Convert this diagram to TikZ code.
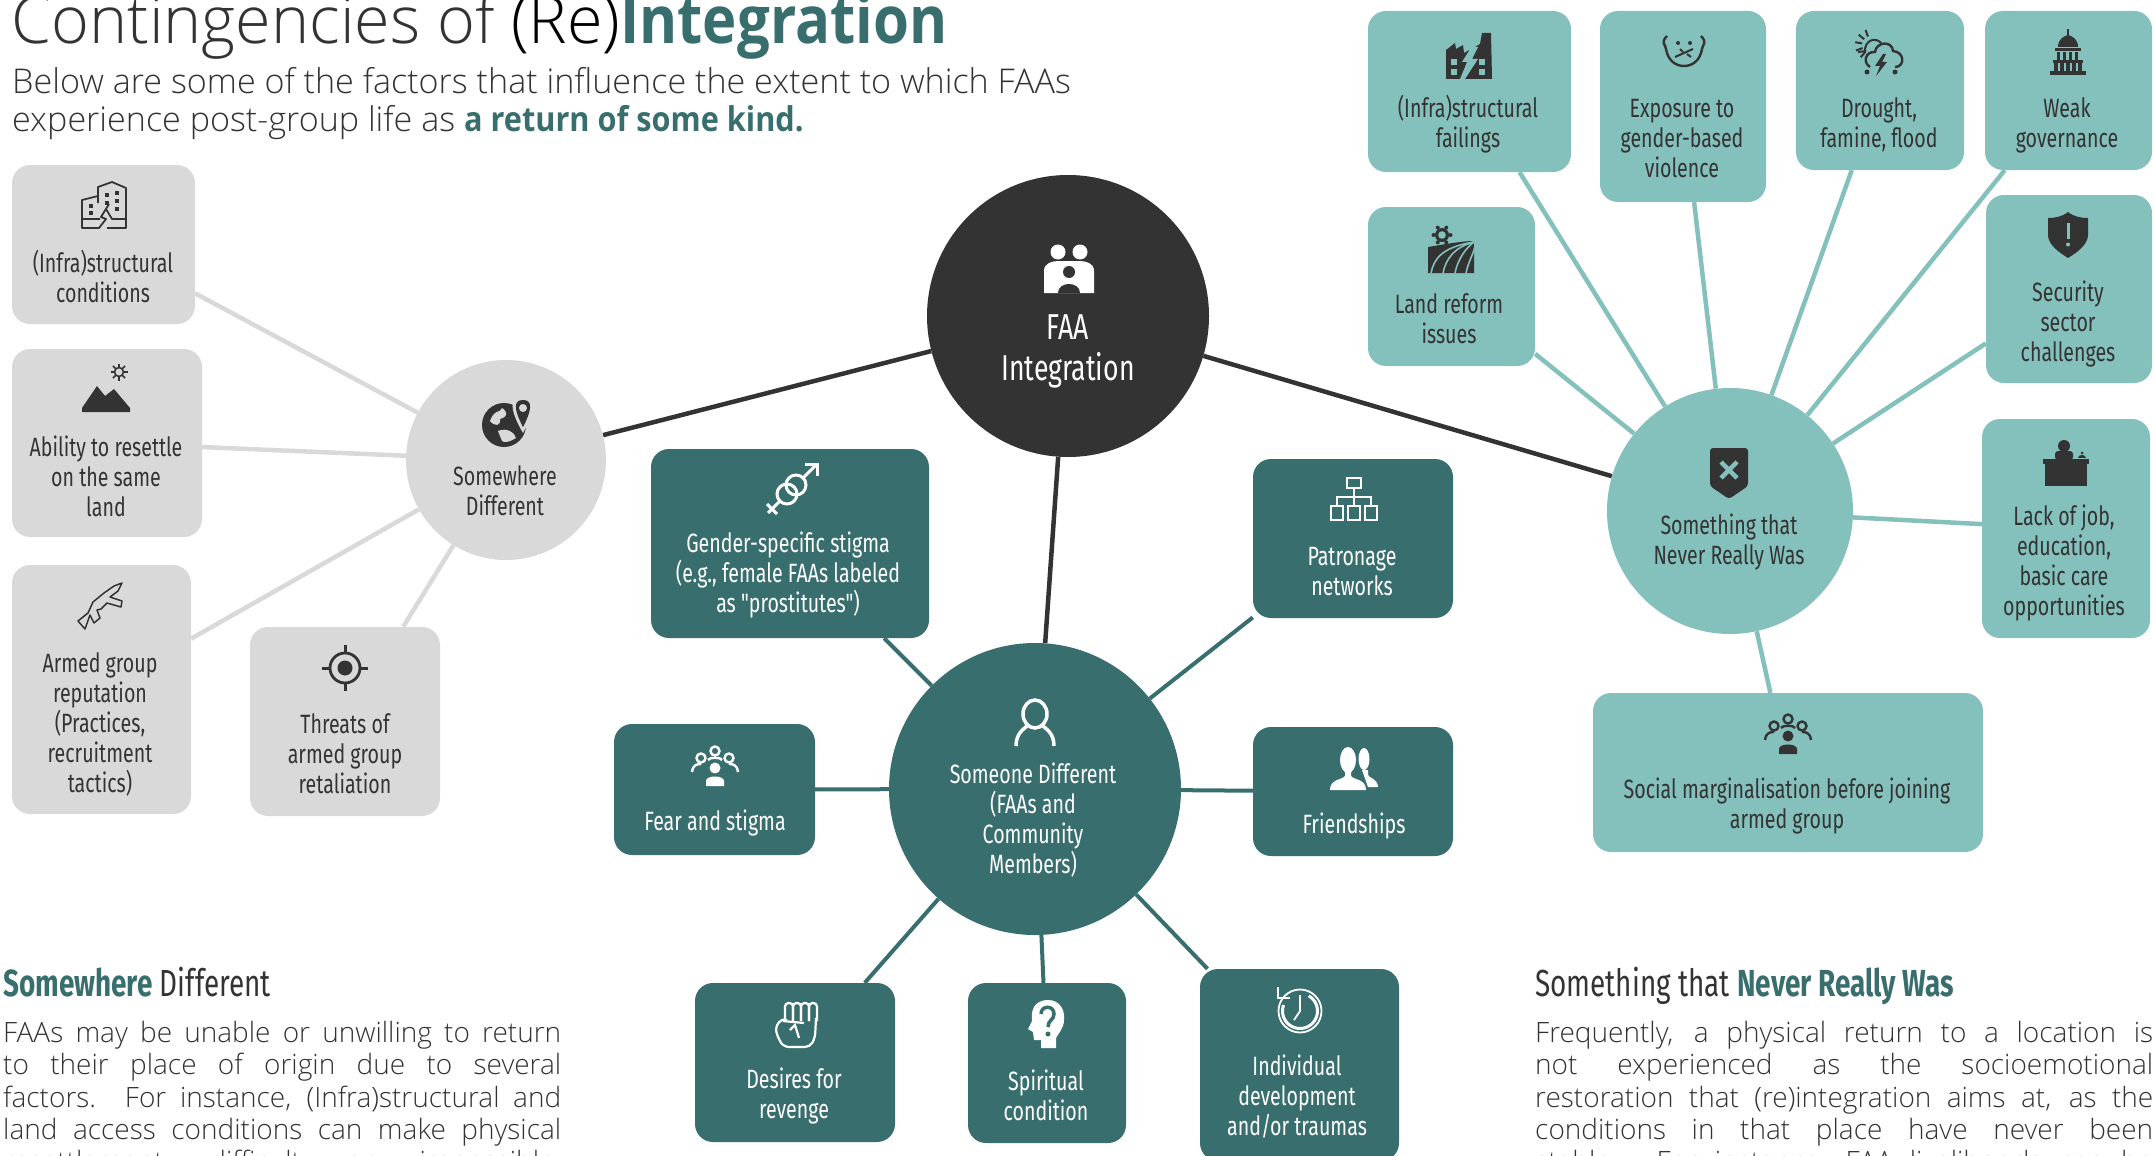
\documentclass[tikz,border=0pt]{standalone}
\usepackage{fontspec}
\usetikzlibrary{backgrounds}
\setmainfont[UprightFont={* Light}, BoldFont={* Bold}]{Open Sans}
\newfontfamily\condfont[FakeStretch=0.74]{Fira Sans}
\newfontfamily\headfont[FakeStretch=0.98, UprightFont={* Light}, BoldFont={* Bold}]{Open Sans}

\definecolor{teald}{HTML}{386F6E}
\definecolor{teall}{HTML}{84C0BC}
\definecolor{grayc}{HTML}{D9D9D9}
\definecolor{darkc}{HTML}{333333}

\tikzset{
	box/.style={rectangle, rounded corners=18pt, inner sep=0pt},
	graybox/.style={box, fill=grayc},
	lightbox/.style={box, fill=teall},
	darkbox/.style={box, fill=teald},
	hub/.style={circle, inner sep=0pt},
	lbl/.style={align=center, inner sep=0pt, text=darkc, font=\condfont\fontsize{26.5}{30}\selectfont},
	wlbl/.style={lbl, text=white},
	grayline/.style={grayc, line width=4.5pt},
	lightline/.style={teall, line width=4.5pt},
	darkline/.style={teald, line width=4pt},
	mainline/.style={darkc, line width=4.5pt},
	heading/.style={anchor=base west, inner sep=0pt, text=darkc, font=\condfont\fontsize{37.7}{40}\selectfont},
	bodytext/.style={anchor=north west, inner sep=0pt, align=justify, text=darkc, font=\fontsize{28}{32.3}\selectfont},
	pics/ibuilding/.style={code={
		\draw[line width=1.8pt, line join=round] (-6,-3)--(-6,-19)--(8,-24)--(22,-18)--(22,13)--(8,13)--(2,3);
		\draw[line width=1.8pt, line join=round] (-6,-10)--(-22,-6)--(-22,13)--(-4,13);
		\draw[line width=1.8pt, line join=round] (-22,13)--(-22,22)--(-5,22)--(2,13)--(-3,11)--(5,-2);
		\draw[line width=1.8pt, line join=round] (3,22)--(22,22)--(22,13);
		\foreach \wx/\wy in {1/-13,1/-5,11/-15,11/-7,11/1,-15/-2,-15/5}
			\fill (\wx,\wy) rectangle ++(4,4);
	}},
	pics/imountain/.style={code={
		\fill (-24,23)--(-24,19)--(-9,-3)--(-1,7)--(8,0)--(24,19)--(24,23)--cycle;
		\draw[line width=1.6pt] (13,-17) circle (4.5);
		\foreach \ang in {0,45,...,315}
			\draw[line width=1.6pt] (13,-17)++(\ang:5)--++(\ang:3.5);
	}},
	pics/irifle/.style={code={
		\draw[line width=1.5pt, line join=round] (-22,15)--(-12,7)--(-7,-4)--(4,-13)--(14,-20)--(22,-23)--(18,-15)--(10,-9)--(22,-5)--(21,1)--(7,-3)--(1,3)--(-3,4)--(0,12)--(-6,17)--(-10,9)--(-15,23)--cycle;
	}},
	pics/itarget/.style={code={
		\draw[line width=2.8pt] (0,0) circle (15);
		\fill (0,0) circle (7.5);
		\foreach \ang in {0,90,180,270}
			\draw[line width=3pt] (\ang:15)--(\ang:23);
	}},
	pics/iglobe/.style={code={
		\fill (-3,2) circle (22);
		\fill[grayc] (-17,-2) .. controls (-13,-14) and (-6,-10) .. (-5,-15) .. controls (2,-10) and (0,-6) .. (-7,-4) .. controls (-6,3) and (-12,4) .. cycle;
		\fill[grayc] (-9,8) .. controls (0,4) and (8,10) .. (9,15) .. controls (3,19) and (-3,20) .. (-5,18) -- cycle;
		\fill[grayc] (16,-27) .. controls (2,-27) and (2,-14) .. (16,10) .. controls (29,-14) and (29,-27) .. (16,-27) -- cycle;
		\fill (16,-23) .. controls (6,-23) and (7,-13) .. (16,4) .. controls (25,-13) and (26,-23) .. (16,-23) -- cycle;
		\fill[grayc] (16,-15) circle (4);
	}},
	pics/ifamily/.style={code={
		\fill (-11,-17) circle (7.5);
		\fill (11,-17) circle (7.5);
		\fill (-25,24)--(-25,2) .. controls (-25,-6) and (-17,-8) .. (-10,-8) -- (10,-8) .. controls (17,-8) and (25,-6) .. (25,2) -- (25,24)--cycle;
		\fill[darkc] (0,3) circle (6);
		\fill[darkc] (-11,24) .. controls (-11,12) and (11,12) .. (11,24)--cycle;
	}},
	pics/igender/.style={code={
		\draw[line width=3pt] (-5,5) circle (10);
		\draw[line width=3pt] (4,-4) circle (10);
		\draw[line width=3pt] (11,-11)--(24,-24);
		\draw[line width=3pt] (13,-25)--(25,-25)--(25,-13);
		\draw[line width=3pt] (-12,12)--(-24,24);
		\draw[line width=3pt] (-25,15)--(-15,25);
	}},
	pics/iorg/.style={code={
		\draw[line width=1.7pt] (-7,-22) rectangle (7,-12);
		\draw[line width=1.7pt] (0,-12)--(0,6);
		\draw[line width=1.7pt] (-17,6)--(-17,-3)--(17,-3)--(17,6);
		\draw[line width=1.7pt] (-23,6) rectangle (-11,20);
		\draw[line width=1.7pt] (-6,6) rectangle (6,20);
		\draw[line width=1.7pt] (11,6) rectangle (23,20);
	}},
	pics/igroup/.style={code={
		\draw[line width=2.4pt] (-14,-8) circle (4.5);
		\draw[line width=2.4pt] (0,-15) circle (4.5);
		\draw[line width=2.4pt] (14,-8) circle (4.5);
		\draw[line width=2.4pt] (-23,6) .. controls (-22,-2) and (-17,-2) .. (-14,-2);
		\draw[line width=2.4pt] (-7,-6) .. controls (-6,-9) and (6,-9) .. (7,-6);
		\draw[line width=2.4pt] (23,6) .. controls (22,-2) and (17,-2) .. (14,-2);
		\fill (0,2) circle (5.5);
		\fill (-9,20)--(-9,15) .. controls (-9,9) and (9,9) .. (9,15)--(9,20)--cycle;
	}},
	pics/ifriends/.style={code={
		\fill (10,-9) ellipse (5.5 and 11);
		\fill (8,2)--(14,2)--(14,7) .. controls (15,10) and (24,11) .. (24,19)--(14,19)--cycle;
		\fill[teald] (-6,-8) ellipse (10 and 14);
		\fill (-6,-8) ellipse (8 and 13);
		\fill (-9,2)--(-3,2)--(-3,8) .. controls (0,12) and (12,11) .. (12,22)--(-24,22) .. controls (-24,11) and (-12,12) .. (-9,8)--cycle;
	}},
	pics/iperson/.style={code={
		\draw[line width=3.5pt] (0,-9) ellipse (12 and 14);
		\draw[line width=3.5pt] (-19,23) .. controls (-19,10) and (-11,6) .. (-8,3);
		\draw[line width=3.5pt] (19,23) .. controls (19,10) and (11,6) .. (8,3);
	}},
	pics/ifist/.style={code={
		\draw[line width=2.2pt, rounded corners=5pt] (-9,-4)--(-14,-6)--(-21,4)--(-17,16)--(-12,23)--(14,23)--(19,14)--(20,-6);
		\foreach \fx in {-7,1,9,17}
			\draw[line width=2.2pt, rounded corners=3.5pt] (\fx-4,-3)--(\fx-4,-21)--(\fx+4,-21)--(\fx+4,-3);
		\draw[line width=2.2pt, rounded corners=3pt] (-13,-3)--(8,-1);
		\draw[line width=2.2pt] (-6,6)--(-1,1)--(3,14);
	}},
	pics/ihead/.style={code={
		\fill (10,24)--(-5,24)--(-5,16)--(-12,16)--(-13,8)--(-18,5)--(-14,-3) .. controls (-16,-20) and (-6,-24) .. (2,-24) .. controls (14,-24) and (19,-14) .. (18,-4) .. controls (18,4) and (12,10) .. (10,14)--cycle;
		\draw[teald, line width=3.5pt] (-5,-10) .. controls (-5,-19) and (8,-19) .. (8,-10) .. controls (8,-4) and (2,-4) .. (2,3);
		\fill[teald] (2,10) circle (2.5);
	}},
	pics/iclock/.style={code={
		\draw[line width=1.8pt] (1,1) circle (21.5);
		\draw[line width=3pt] (1,1) ++(-60:17.5) arc (-60:200:17.5);
		\draw[line width=1.8pt] (1,-15)--(1,1)--(-5,10);
		\draw[line width=2pt] (-21,-23)--(-21,-12)--(-9,-12);
	}},
	pics/ifactory/.style={code={
		\fill (-23,23)--(-23,-6)--(-14,-13)--(-13,-7)--(-6,-11)--(-5,-3)--(4,-8)--(11,-12)--(13,-23)--(22,-23)--(23,23)--cycle;
		\fill[teall] (3,-10)--(-7,6)--(-2,6)--(-9,23)--(-4,23)--(9,3)--(3,3)--(9,-9)--cycle;
		\foreach \wx/\wy in {-18/3,-18/13,10/3,10/13}
			\fill[teall] (\wx,\wy) rectangle ++(6,6);
	}},
	pics/iface/.style={code={
		\draw[line width=2.4pt] (-17,-15) .. controls (-24,-8) and (-18,-6) .. (-18,-2) .. controls (-16,10) and (-8,15) .. (0,15) .. controls (8,15) and (16,10) .. (18,-2) .. controls (18,-6) and (24,-8) .. (17,-15);
		\fill (-6,-8) circle (2);
		\fill (6,-8) circle (2);
		\draw[line width=2pt] (-9,6)--(9,-2);
		\draw[line width=2pt] (-4,-2)--(-1,1);
		\draw[line width=2pt] (3,3)--(7,6);
	}},
	pics/istorm/.style={code={
		\draw[line width=2pt] (-22,-2) -- (-14,-3);
		\foreach \ang in {110,140,170,200,230}
			\draw[line width=2pt] (-9,-9)++(\ang+20:9)--++(\ang+20:7);
		\draw[line width=2pt] (-15,-2) .. controls (-16,-14) and (-4,-18) .. (2,-10);
		\draw[line width=2.4pt] (-10,13) .. controls (-18,8) and (-14,-3) .. (-5,-2) .. controls (-4,-12) and (12,-14) .. (13,-3) .. controls (25,-2) and (25,13) .. (15,13);
		\fill (3,0)--(-5,12)--(0,12)--(-4,22)--(7,8)--(2,8)--(6,0)--cycle;
		\fill (-13,18) circle (2.5);
		\fill (15,18) circle (2.5);
	}},
	pics/icapitol/.style={code={
		\draw[line width=1.5pt] (0,-23)--(0,-14);
		\fill (-10,-5) .. controls (-10,-13) and (-4,-16) .. (0,-17) .. controls (4,-16) and (10,-13) .. (10,-5)--cycle;
		\fill (-13,-4) rectangle (13,-1);
		\fill (-15,8) rectangle (15,11);
		\fill (-18,19) rectangle (18,23);
		\foreach \cx in {-11,-5,1,7}
			\fill (\cx,0) rectangle ++(3,8);
		\foreach \cx in {-14,-8,-2,4,10}
			\fill (\cx,11) rectangle ++(3.5,8);
	}},
	pics/iland/.style={code={
		\fill (-23,23)--(-23,-3) .. controls (-10,-5) and (10,-9) .. (23,-9)--(23,23)--cycle;
		\foreach \rx in {-20,-8,4,15}
			\draw[teall, line width=1.6pt] (\rx,23) .. controls (\rx+3,8) and (\rx+12,-3) .. (23,-8);
		\fill (-9,-15) circle (7);
		\fill[teall] (-9,-15) circle (3.8);
		\foreach \ang in {0,60,...,300}
			\fill (-9,-15)++(\ang:8.5) circle (2);
	}},
	pics/ishield/.style={code={
		\fill (0,-23) .. controls (-6,-18) and (-14,-17) .. (-20,-17)--(-20,0) .. controls (-20,10) and (-8,18) .. (0,23) .. controls (8,18) and (20,10) .. (20,0)--(20,-17) .. controls (14,-17) and (6,-18) .. (0,-23)--cycle;
		\fill[teall] (-1.5,-12) rectangle (1.5,4);
		\fill[teall] (0,9.5) circle (2);
	}},
	pics/ishieldx/.style={code={
		\fill[rounded corners=3pt] (-19,-25)--(19,-25)--(19,13)--(0,26)--(-19,13)--cycle;
		\draw[teall, line width=4.5pt] (-8,-11)--(8,5);
		\draw[teall, line width=4.5pt] (8,-11)--(-8,5);
	}},
	pics/idesk/.style={code={
		\fill (-2,-17) circle (6);
		\fill[rounded corners=3pt] (-11,-3)--(-11,-12)--(7,-12)--(7,-3)--cycle;
		\fill (-23,-4) rectangle (23,1);
		\fill (-21,1) rectangle (21,23);
		\fill (12,-5) .. controls (12,-9) and (20,-9) .. (20,-5)--cycle;
		\fill (16,-10) circle (1.5);
	}},
}

\begin{document}
\begin{tikzpicture}[x=1pt, y=-1pt]
	\useasboundingbox (0,0) rectangle (2155,1156);
	\clip (0,0) rectangle (2155,1156);
	% title
	\node [anchor=base west, inner sep=0pt, text=darkc, font=\headfont\fontsize{66}{70}\selectfont] (title) at (11,44) {Contingencies of \textcolor{black}{(Re)}\textcolor{teald}{\addfontfeature{FakeStretch=0.88}\bfseries Integration}};
	\node [anchor=north west, inner sep=0pt, align=left, text=darkc, font=\fontsize{34.1}{38}\selectfont] (sub) at (12,67) {Below are some of the factors that influence the extent to which FAAs\\experience post-group life as \textcolor{teald}{\bfseries\addfontfeature{FakeStretch=0.9}a return of some kind.}};

	% hubs
	\node [hub, fill=darkc, minimum size=282pt] (faa) at (1068,316) {};
	\node [hub, fill=grayc, minimum size=200pt] (where) at (506,460) {};
	\node [hub, fill=teald, minimum size=292pt] (someone) at (1035,789) {};
	\node [hub, fill=teall, minimum size=246pt] (never) at (1730,511) {};

	% left boxes
	\node [graybox, minimum width=183pt, minimum height=159pt] (infra) at (103.5,244.5) {};
	\node [graybox, minimum width=190pt, minimum height=188pt] (resettle) at (107,443) {};
	\node [graybox, minimum width=179pt, minimum height=249pt] (armed) at (101.5,689.5) {};
	\node [graybox, minimum width=190pt, minimum height=189pt] (threats) at (345,721.5) {};

	% middle boxes
	\node [darkbox, minimum width=278pt, minimum height=189pt] (gender) at (790,543.5) {};
	\node [darkbox, minimum width=200pt, minimum height=159pt] (patron) at (1353,538.5) {};
	\node [darkbox, minimum width=201pt, minimum height=131pt] (fear) at (714.5,789.5) {};
	\node [darkbox, minimum width=200pt, minimum height=129pt] (friends) at (1353,791.5) {};
	\node [darkbox, minimum width=200pt, minimum height=159pt] (revenge) at (795,1062.5) {};
	\node [darkbox, minimum width=158pt, minimum height=160pt] (spirit) at (1047,1063) {};
	\node [darkbox, minimum width=199pt, minimum height=192pt] (indiv) at (1299.5,1065) {};

	% right boxes
	\node [lightbox, minimum width=203pt, minimum height=161pt] (fail) at (1469.5,91.5) {};
	\node [lightbox, minimum width=166pt, minimum height=191pt] (expo) at (1683,106.5) {};
	\node [lightbox, minimum width=168pt, minimum height=159pt] (drought) at (1880,90.5) {};
	\node [lightbox, minimum width=167pt, minimum height=159pt] (weak) at (2068.5,90.5) {};
	\node [lightbox, minimum width=167pt, minimum height=159pt] (land) at (1451.5,286.5) {};
	\node [lightbox, minimum width=166pt, minimum height=188pt] (secur) at (2069,289) {};
	\node [lightbox, minimum width=168pt, minimum height=219pt] (lack) at (2066,528.5) {};
	\node [lightbox, minimum width=390pt, minimum height=159pt] (social) at (1788,772.5) {};

	\begin{scope}[on background layer]
		\foreach \nd in {infra, resettle, armed, threats}
			\draw [grayline] (where) -- (\nd);
		\foreach \nd in {gender, patron, fear, friends, revenge, spirit, indiv}
			\draw [darkline] (someone) -- (\nd);
		\foreach \nd in {fail, expo, drought, weak, land, secur, lack, social}
			\draw [lightline] (never) -- (\nd);
		\foreach \nd in {where, someone, never}
			\draw [mainline] (faa) -- (\nd);
	\end{scope}

	% labels
	\node [lbl] (tinfra) at (103,276) {(Infra)structural\\conditions};
	\node [lbl] (tresettle) at (106,476) {Ability to resettle\\on the same\\land};
	\node [lbl] (tarmed) at (100,724) {Armed group\\reputation\\(Practices,\\recruitment\\tactics)};
	\node [lbl] (tthreats) at (345,754) {Threats of\\armed group\\retaliation};
	\node [lbl] (twhere) at (505,491) {Somewhere\\Different};
	\node [wlbl, font=\condfont\fontsize{36}{41}\selectfont] (tfaa) at (1068,351) {FAA\\Integration};
	\node [wlbl] (tgender) at (788,575) {Gender-specific stigma\\(e.g., female FAAs labeled\\as "prostitutes")};
	\node [wlbl] (tpatron) at (1352,572) {Patronage\\networks};
	\node [wlbl] (tfear) at (715,823) {Fear and stigma};
	\node [wlbl] (tfriends) at (1354,826) {Friendships};
	\node [wlbl] (tsomeone) at (1033,820) {Someone Different\\(FAAs and\\Community\\Members)};
	\node [wlbl] (trevenge) at (794,1096) {Desires for\\revenge};
	\node [wlbl] (tspirit) at (1046,1095) {Spiritual\\condition};
	\node [wlbl] (tindiv) at (1297,1097) {Individual\\development\\and/or traumas};
	\node [lbl] (tfail) at (1468,124) {(Infra)structural\\failings};
	\node [lbl] (texpo) at (1682,139) {Exposure to\\gender-based\\violence};
	\node [lbl] (tdrought) at (1879,125) {Drought,\\famine, flood};
	\node [lbl] (tweak) at (2067,125) {Weak\\governance};
	\node [lbl] (tland) at (1449,319) {Land reform\\issues};
	\node [lbl] (tsecur) at (2068,324) {Security\\sector\\challenges};
	\node [lbl] (tnever) at (1729,542) {Something that\\Never Really Was};
	\node [lbl] (tlack) at (2064,563) {Lack of job,\\education,\\basic care\\opportunities};
	\node [lbl] (tsocial) at (1787,806) {Social marginalisation before joining\\armed group};

	% icons
	\pic [darkc] at (104,206) {ibuilding};
	\pic [darkc] at (106,389) {imountain};
	\pic [darkc] at (100,606) {irifle};
	\pic [darkc] at (345,668) {itarget};
	\pic [darkc] at (507,423) {iglobe};
	\pic [white] at (1069,269) {ifamily};
	\pic [white] at (792,489) {igender};
	\pic [white] at (1354,500) {iorg};
	\pic [white] at (715,766) {igroup};
	\pic [white] at (1354,768) {ifriends};
	\pic [white] at (1035,723) {iperson};
	\pic [white] at (796,1024) {ifist};
	\pic [white] at (1046,1024) {ihead};
	\pic [white] at (1299,1010) {iclock};
	\pic [darkc] at (1469,56) {ifactory};
	\pic [darkc] at (1684,51) {iface};
	\pic [darkc] at (1880,54) {istorm};
	\pic [darkc] at (2068,52) {icapitol};
	\pic [darkc] at (1451,250) {iland};
	\pic [darkc] at (2068,235) {ishield};
	\pic [darkc] at (1729,473) {ishieldx};
	\pic [darkc] at (2066,463) {idesk};
	\pic [darkc] at (1788,734) {igroup};

	% notes at the bottom
	\node [heading] (hleft) at (3,996) {\textcolor{teald}{\bfseries Somewhere} Different};
	\node [bodytext, text width=558pt] (bleft) at (3,1021) {FAAs may be unable or unwilling to return\linebreak to their place of origin due to several\linebreak factors. For instance, (Infra)structural and\linebreak land access conditions can make physical\linebreak resettlement difficult or impossible.\linebreak};
	\node [heading] (hright) at (1535,996) {Something that \textcolor{teald}{\bfseries Never Really Was}};
	\node [bodytext, text width=618pt] (bright) at (1535,1021) {Frequently, a physical return to a location is\linebreak not experienced as the socioemotional\linebreak restoration that (re)integration aims at, as the\linebreak conditions in that place have never been\linebreak stable. For instance, FAA livelihoods can be\linebreak};
\end{tikzpicture}
\end{document}
